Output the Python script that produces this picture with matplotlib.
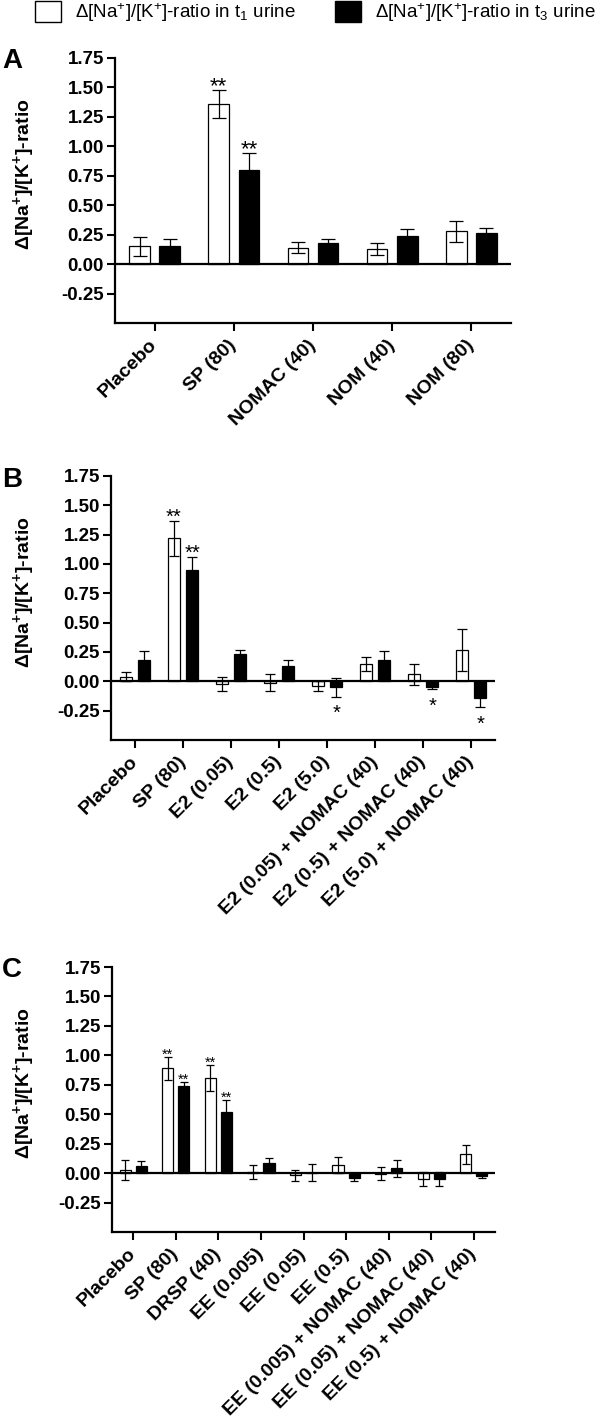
import numpy as np
import matplotlib
matplotlib.use('Agg')
import matplotlib.pyplot as plt
from matplotlib.patches import Patch

plt.rcParams['font.family'] = ['Liberation Sans', 'DejaVu Sans']
plt.rcParams['font.weight'] = 'bold'
plt.rcParams['axes.unicode_minus'] = False

# panel A
groups_A = ['Placebo', 'SP (80)', 'NOMAC (40)', 'NOM (40)', 'NOM (80)']
a_t1 = [0.15, 1.36, 0.14, 0.13, 0.28]
a_t1_err = [0.08, 0.12, 0.045, 0.05, 0.09]
a_t3 = [0.15, 0.80, 0.18, 0.24, 0.26]
a_t3_err = [0.06, 0.14, 0.03, 0.06, 0.045]
a_sig_t1 = ['', '**', '', '', '']
a_sig_t3 = ['', '**', '', '', '']

# panel B
groups_B = ['Placebo', 'SP (80)', 'E2 (0.05)', 'E2 (0.5)', 'E2 (5.0)',
            'E2 (0.05) + NOMAC (40)', 'E2 (0.5) + NOMAC (40)', 'E2 (5.0) + NOMAC (40)']
b_t1 = [0.04, 1.22, -0.02, -0.01, -0.04, 0.15, 0.06, 0.27]
b_t1_err = [0.04, 0.15, 0.06, 0.07, 0.04, 0.06, 0.09, 0.18]
b_t3 = [0.18, 0.95, 0.23, 0.13, -0.05, 0.18, -0.05, -0.14]
b_t3_err = [0.08, 0.11, 0.04, 0.05, 0.08, 0.08, 0.015, 0.08]
b_sig_t1 = ['', '**', '', '', '', '', '', '']
b_sig_t3 = ['', '**', '', '', '*', '', '*', '*']

# panel C
groups_C = ['Placebo', 'SP (80)', 'DRSP (40)', 'EE (0.005)', 'EE (0.05)', 'EE (0.5)',
            'EE (0.005) + NOMAC (40)', 'EE (0.05) + NOMAC (40)', 'EE (0.5) + NOMAC (40)']
c_t1 = [0.025, 0.89, 0.81, 0.01, -0.02, 0.07, -0.005, -0.05, 0.16]
c_t1_err = [0.085, 0.10, 0.11, 0.06, 0.05, 0.07, 0.055, 0.06, 0.08]
c_t3 = [0.06, 0.74, 0.52, 0.09, 0.005, -0.04, 0.04, -0.05, -0.025]
c_t3_err = [0.04, 0.035, 0.10, 0.04, 0.075, 0.03, 0.07, 0.06, 0.02]
c_sig_t1 = ['', '**', '**', '', '', '', '', '', '']
c_sig_t3 = ['', '**', '**', '', '', '', '', '', '']

yticks = [-0.25, 0.0, 0.25, 0.5, 0.75, 1.0, 1.25, 1.5, 1.75]
ylab = r'$\mathregular{\Delta[Na^{+}]/[K^{+}]}$-ratio'

W, H = 600, 1420
fig = plt.figure(figsize=(W / 100, H / 100), dpi=100)


def panel(rect, letter, letter_y, groups, t1, e1, t3, e3, s1, s3, star_fs, cap):
    left, top, right, bottom = rect
    ax = fig.add_axes([left / W, 1 - bottom / H, (right - left) / W, (bottom - top) / H])
    x = np.arange(len(groups))
    w = 0.26
    off = 0.19
    ax.bar(x - off, t1, w, color='white', edgecolor='black', linewidth=0.9, zorder=2)
    ax.bar(x + off, t3, w, color='black', edgecolor='black', linewidth=0.9, zorder=2)
    ax.errorbar(x - off, t1, yerr=e1, fmt='none', ecolor='black', elinewidth=0.9,
                capsize=cap, capthick=0.9, zorder=3)
    ax.errorbar(x + off, t3, yerr=e3, fmt='none', ecolor='black', elinewidth=0.9,
                capsize=cap, capthick=0.9, zorder=3)
    ax.axhline(0, color='black', linewidth=1.6, zorder=4)

    # significance stars
    for xs, m, e, s in zip(np.concatenate([x - off, x + off]), t1 + t3, e1 + e3, s1 + s3):
        if not s:
            continue
        if m >= 0:
            ax.annotate(s, (xs, m + e), xytext=(0, -1.5), textcoords='offset points',
                        ha='center', va='baseline', fontsize=star_fs, fontweight='normal')
        else:
            ax.annotate(s, (xs, m - e), xytext=(0, -star_fs * 1.12), textcoords='offset points',
                        ha='center', va='baseline', fontsize=star_fs, fontweight='normal')

    ax.set_xlim(-0.5, len(groups) - 0.5)
    ax.set_ylim(-0.5, 1.75)
    ax.set_yticks(yticks)
    ax.set_yticklabels(['%.2f' % v for v in yticks], fontsize=13.5, fontweight='bold')
    ax.set_xticks(x)
    ax.set_xticklabels(groups, rotation=45, ha='right', va='center', rotation_mode='anchor',
                       fontsize=14, fontweight='bold')
    ax.tick_params(axis='x', length=6, width=1.5, pad=8)
    ax.tick_params(axis='y', length=6, width=1.5, pad=2)
    for sp in ['top', 'right']:
        ax.spines[sp].set_visible(False)
    for sp in ['left', 'bottom']:
        ax.spines[sp].set_linewidth(1.6)
    ax.set_ylabel(ylab, fontsize=14, fontweight='bold')
    ax.yaxis.set_label_coords((37 - left) / (right - left), 0.56)
    fig.text(2 / W, 1 - letter_y / H, letter, fontsize=20, fontweight='bold',
             ha='left', va='baseline')
    return ax


panel((115, 58, 511, 323), 'A', 68, groups_A, a_t1, a_t1_err, a_t3, a_t3_err,
      a_sig_t1, a_sig_t3, 16, 5)
panel((111, 476, 495, 740), 'B', 487, groups_B, b_t1, b_t1_err, b_t3, b_t3_err,
      b_sig_t1, b_sig_t3, 14.5, 3.5)
panel((112, 967, 495, 1232), 'C', 977, groups_C, c_t1, c_t1_err, c_t3, c_t3_err,
      c_sig_t1, c_sig_t3, 10.5, 3)

handles = [Patch(facecolor='white', edgecolor='black', linewidth=1.0),
           Patch(facecolor='black', edgecolor='black', linewidth=1.0)]
labels = [r'$\mathregular{\Delta[Na^{+}]/[K^{+}]}$-ratio in t$\mathregular{_{1}}$ urine',
          r'$\mathregular{\Delta[Na^{+}]/[K^{+}]}$-ratio in t$\mathregular{_{3}}$ urine']
leg = fig.legend(handles, labels, loc='upper left', bbox_to_anchor=(35 / W, 1 - 1 / H),
                 ncol=2, frameon=False, borderpad=0, borderaxespad=0,
                 handlelength=1.39, handleheight=1.28, handletextpad=0.75, columnspacing=2.1,
                 prop={'size': 13.5, 'weight': 'normal'})

fig.savefig('out.png', dpi=100)
